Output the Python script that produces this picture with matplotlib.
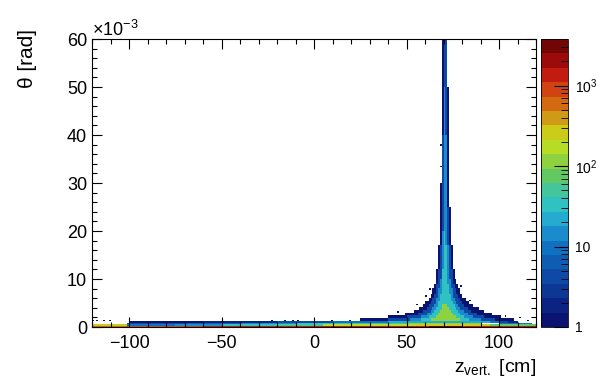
import numpy as np
import matplotlib
matplotlib.use("Agg")
import matplotlib.pyplot as plt
from matplotlib.colors import ListedColormap, BoundaryNorm
from matplotlib.ticker import MultipleLocator, FixedLocator, NullFormatter

plt.rcParams['font.family'] = ['Liberation Sans', 'DejaVu Sans']
plt.rcParams['mathtext.fontset'] = 'custom'
plt.rcParams['mathtext.rm'] = 'Liberation Sans'
plt.rcParams['mathtext.it'] = 'Liberation Sans:italic'

# binning of the histogram (z in cm, theta in mrad)
z_edges = np.linspace(-120, 120, 241)
th_edges = np.linspace(0, 60, 201)

# bottom band:
# theta_lo, theta_hi [mrad], z_lo, z_hi [cm], counts per bin
band_th_lo = [0.0, 0.0, 0.0, 0.0,
              0.3, 0.3, 0.3, 0.3, 0.3, 0.3, 0.3, 0.3,
              0.6, 0.6, 0.6, 0.6, 0.6, 0.6, 0.6,
              0.9, 0.9, 0.9, 0.9, 0.9]
band_th_hi = [0.3, 0.3, 0.3, 0.3,
              0.6, 0.6, 0.6, 0.6, 0.6, 0.6, 0.6, 0.6,
              0.9, 0.9, 0.9, 0.9, 0.9, 0.9, 0.9,
              1.2, 1.2, 1.2, 1.2, 1.2]
band_z_lo = [-120, -101, -60, 62,
             -120, -101, -75, -50, -20, 5, 55, 95,
             -101, -70, -40, -10, 20, 50, 100,
             -100, -60, -20, 10, 40]
band_z_hi = [-101, 120, 120, 80,
             -101, -75, -50, -20, 5, 55, 95, 120,
             -70, -40, -10, 20, 50, 90, 118,
             -60, 110, 105, 100, 95]
band_counts = [600, 1100, 1600, 2600,
               300, 8, 15, 30, 60, 150, 300, 70,
               4, 6, 12, 30, 60, 120, 8,
               1, 2, 4, 10, 25]

# peak at z ~ 70 cm: for each theta slice, z range of the
# 1 / 4 / 12 / 35 / 100 count contours (nan = not reached)
fl_th_lo = [1.2, 1.8, 2.4, 3.0, 3.6, 4.2, 4.8, 5.4, 6.0, 7.0, 8.0,
            9.0, 10.0, 12.0, 14.0, 17.0, 20.0, 25.0, 30.0, 40.0, 50.0]
fl_th_hi = [1.8, 2.4, 3.0, 3.6, 4.2, 4.8, 5.4, 6.0, 7.0, 8.0, 9.0,
            10.0, 12.0, 14.0, 17.0, 20.0, 25.0, 30.0, 40.0, 50.0, 60.0]
fl1_lo = [25, 40, 49, 54, 57, 59, 60.5, 62, 63, 64, 65,
          66, 66.5, 67, 67.5, 68, 68.5, 68.5, 69, 69, 69]
fl1_hi = [108, 101, 96, 92, 89, 86, 84, 82, 80, 79, 78,
          77, 76, 75.5, 75, 74.5, 74, 73.5, 73, 73, 72.5]
fl4_lo = [40, 50, 56, 59, 61, 62, 63, 64, 65, 66, 66.5,
          67, 67.5, 68, 68.5, 69, 69, 69.5, 69.5, 70, 70]
fl4_hi = [98, 92, 88, 85, 83, 81, 80, 79, 78, 77, 76,
          75.5, 75, 74.5, 74, 73.5, 73, 72.5, 72.5, 72, 72]
fl12_lo = [52, 58, 61, 63, 64, 65, 66, 66.5, 67, 67.5, 68,
           68.5, 69, 69, 69.5, 69.5, 70, 70, 70, 70, np.nan]
fl12_hi = [90, 86, 83, 81, 79, 78, 77, 76, 75.5, 75, 74.5,
           74, 73.5, 73, 73, 72.5, 72.5, 72, 72, 71, np.nan]
fl35_lo = [58, 62, 64, 65, 66, 67, 67.5, 68, 68.5, 69, 69,
           69.5, 69.5, 70, 70, 70, np.nan, np.nan, np.nan, np.nan, np.nan]
fl35_hi = [84, 81, 79, 78, 77, 76, 75, 74.5, 74, 73.5, 73,
           72.5, 72.5, 72, 72, 71, np.nan, np.nan, np.nan, np.nan, np.nan]
fl100_lo = [63, 66, 67, 68, 69, 69.5, np.nan, np.nan, np.nan, np.nan, np.nan,
            np.nan, np.nan, np.nan, np.nan, np.nan, np.nan, np.nan, np.nan, np.nan, np.nan]
fl100_hi = [79, 77, 75, 74, 73, 72, np.nan, np.nan, np.nan, np.nan, np.nan,
            np.nan, np.nan, np.nan, np.nan, np.nan, np.nan, np.nan, np.nan, np.nan, np.nan]
fl_levels = [1, 4, 12, 35, 100]

# isolated single entries
stray_z = [-121, -117, -113.6, -110, -22, -15, -11.4, -8.7, 62.8, 68.3, 68.3,
           100, 104, 108, 112, 116, 56, 85, 88, 61, 80, 20, 10, 46]
stray_th = [1.4, 1.4, 1.4, 1.4, 1.5, 1.5, 1.5, 1.5, 8.0, 38.0, 33.4,
            1.6, 2.2, 1.5, 1.8, 1.4, 4.6, 5.5, 3.6, 6.5, 8.5, 1.5, 1.4, 3.3]

# palette: 20 bands on a log scale up to ~3800
pal_colors = ['#0a1470', '#0b2383', '#0d3794', '#0e4aa5', '#0f5cb3',
              '#1070c2', '#1a8ccb', '#25aad0', '#2fc2c0', '#45c59c',
              '#62c862', '#8fd23f', '#b6dc26', '#cdcb19', '#cf9b17',
              '#d26a11', '#d04312', '#c21c10', '#9c0b0a', '#720505']
z_max = 3800

zc = 0.5 * (z_edges[:-1] + z_edges[1:])
tc = 0.5 * (th_edges[:-1] + th_edges[1:])
ZC, TC = np.meshgrid(zc, tc)
H = np.zeros_like(ZC)


def fill(t0, t1, z0, z1, c):
    if np.isnan(z0):
        return
    m = (TC >= t0) & (TC < t1) & (ZC >= z0) & (ZC < z1)
    H[m] = np.maximum(H[m], c)


for t0, t1, z0, z1, c in zip(band_th_lo, band_th_hi, band_z_lo, band_z_hi, band_counts):
    fill(t0, t1, z0, z1, c)
fl_lo = [fl1_lo, fl4_lo, fl12_lo, fl35_lo, fl100_lo]
fl_hi = [fl1_hi, fl4_hi, fl12_hi, fl35_hi, fl100_hi]
for lo, hi, c in zip(fl_lo, fl_hi, fl_levels):
    for t0, t1, z0, z1 in zip(fl_th_lo, fl_th_hi, lo, hi):
        fill(t0, t1, z0, z1, c)
for z, t in zip(stray_z, stray_th):
    i = np.searchsorted(th_edges, t) - 1
    j = min(max(np.searchsorted(z_edges, z) - 1, 0), len(zc) - 1)
    H[i, j] = max(H[i, j], 1)
H = np.ma.masked_where(H <= 0, H)

cmap = ListedColormap(pal_colors)
bounds = np.logspace(0, np.log10(z_max), 21)
norm = BoundaryNorm(bounds, cmap.N)

W, Hpx = 598, 386
fig = plt.figure(figsize=(W / 100, Hpx / 100), dpi=100)
ax = fig.add_axes([92 / W, 1 - 327 / Hpx, 444 / W, 288 / Hpx])
mesh = ax.pcolormesh(z_edges, th_edges, H, cmap=cmap, norm=norm)
ax.set_xlim(-120, 120)
ax.set_ylim(0, 60)
ax.xaxis.set_major_locator(MultipleLocator(50))
ax.xaxis.set_minor_locator(MultipleLocator(10))
ax.yaxis.set_major_locator(MultipleLocator(10))
ax.yaxis.set_minor_locator(MultipleLocator(2))
ax.tick_params(which='both', direction='in', top=True, right=True, labelsize=13, width=0.8)
ax.tick_params(which='major', length=7)
ax.tick_params(which='minor', length=3.5)
ax.tick_params(axis='x', pad=6)
for s in ax.spines.values():
    s.set_linewidth(0.8)

fig.text(92 / W, 1 - 36 / Hpx, r'$\times10^{-3}$', fontsize=13, ha='left', va='baseline')
fig.text(28 / W, 1 - 29 / Hpx, 'θ [rad]', fontsize=15, rotation=90, ha='center', va='top')
fig.text(536 / W, 1 - 372 / Hpx, r'z$_{\mathrm{vert.}}$ [cm]', fontsize=14, ha='right', va='baseline')

cax = fig.add_axes([541 / W, 1 - 327 / Hpx, 27 / W, 288 / Hpx])
cb = fig.colorbar(mesh, cax=cax, boundaries=bounds, spacing='proportional')
cb.outline.set_linewidth(0.6)
cax.set_yscale('log')
cax.set_ylim(1, z_max)
cax.yaxis.set_major_locator(FixedLocator([1, 10, 100, 1000]))
cax.set_yticklabels(['1', '10', r'$10^{2}$', r'$10^{3}$'])
minor = [m * d for d in (1, 10, 100, 1000) for m in range(2, 10) if m * d < z_max]
cax.yaxis.set_minor_locator(FixedLocator(minor))
cax.yaxis.set_minor_formatter(NullFormatter())
cax.tick_params(which='both', direction='in', right=True, left=False, labelsize=10, pad=5)
cax.tick_params(which='major', length=10)
cax.tick_params(which='minor', length=5)

fig.savefig('out.png', dpi=100)
